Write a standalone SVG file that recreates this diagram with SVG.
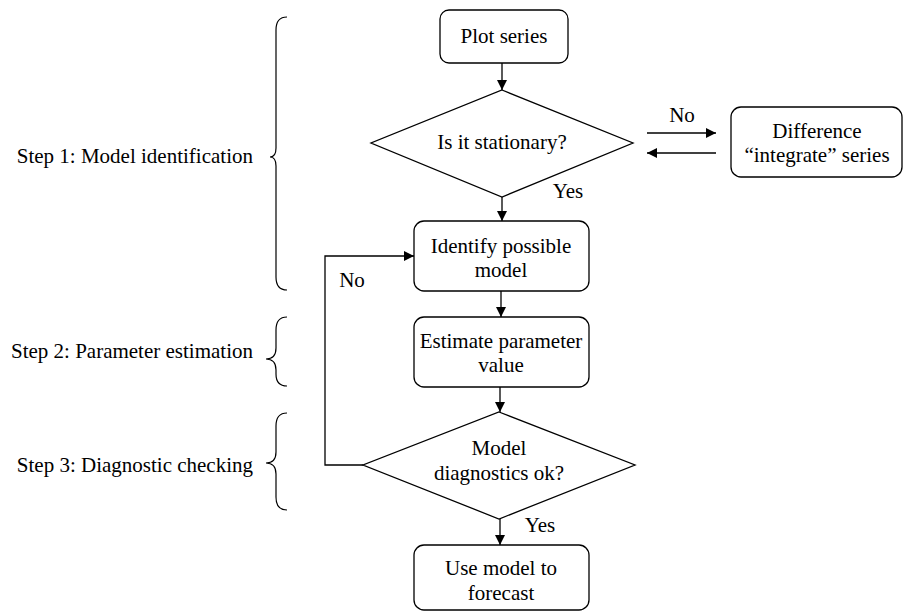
<svg xmlns="http://www.w3.org/2000/svg" width="904" height="612" viewBox="0 0 904 612" font-family="'Liberation Serif', 'Times New Roman', serif" font-size="21">
<defs>
<style>
.c{text-anchor:middle}
.e{text-anchor:end}
.n{fill:#fff;stroke:#000;stroke-width:1.3}
.l{fill:none;stroke:#000;stroke-width:1.3}
.b{fill:none;stroke:#000;stroke-width:1.2}
</style>
<marker id="a" viewBox="0 0 10 10" refX="10" refY="5" markerWidth="10" markerHeight="10" markerUnits="userSpaceOnUse" orient="auto">
<path d="M0,0 L10,5 L0,10 Z" fill="#000"/>
</marker>
</defs>
<rect width="904" height="612" fill="#fff"/>
<g id="connectors">
<line class="l" x1="502" y1="63" x2="502" y2="90" marker-end="url(#a)"/>
<line class="l" x1="502" y1="197" x2="502" y2="221" marker-end="url(#a)"/>
<line class="l" x1="501" y1="291" x2="501" y2="317" marker-end="url(#a)"/>
<line class="l" x1="500" y1="387" x2="500" y2="412" marker-end="url(#a)"/>
<line class="l" x1="500" y1="519" x2="500" y2="545" marker-end="url(#a)"/>
<polyline class="l" points="363,465 325,465 325,256 414,256" marker-end="url(#a)"/>
<line class="l" x1="647" y1="133" x2="716" y2="133" marker-end="url(#a)"/>
<line class="l" x1="716" y1="153" x2="647" y2="153" marker-end="url(#a)"/>
<text x="682" y="122" class="c">No</text>
<text x="568" y="198" class="c">Yes</text>
<text x="352" y="287" class="c">No</text>
<text x="540" y="532" class="c">Yes</text>
</g>
<g id="plot">
<rect class="n" x="440" y="10" width="128" height="53" rx="9"/>
<text x="504" y="43" class="c">Plot series</text>
</g>
<g id="stationary">
<polygon class="n" points="502,90 633,143 502,197 371,143"/>
<text x="502" y="149" class="c">Is it stationary?</text>
</g>
<g id="difference">
<rect class="n" x="731" y="107" width="171" height="70" rx="10"/>
<text x="817" y="138" class="c">Difference</text>
<text x="817" y="162" class="c">“integrate” series</text>
</g>
<g id="identify">
<rect class="n" x="414" y="221" width="175" height="70" rx="10"/>
<text x="501" y="253" class="c">Identify possible</text>
<text x="501" y="277" class="c">model</text>
</g>
<g id="estimate">
<rect class="n" x="414" y="317" width="175" height="70" rx="10"/>
<text x="501" y="348" class="c">Estimate parameter</text>
<text x="501" y="372" class="c">value</text>
</g>
<g id="diagnostics">
<polygon class="n" points="499,412 635,465 499,519 363,465"/>
<text x="499" y="455" class="c">Model</text>
<text x="499" y="480" class="c">diagnostics ok?</text>
</g>
<g id="forecast">
<rect class="n" x="414" y="545" width="175" height="65" rx="10"/>
<text x="501" y="575" class="c">Use model to</text>
<text x="501" y="600" class="c">forecast</text>
</g>
<g id="step1">
<path class="b" d="M287,17 Q276,17 276,30 L276,148 Q276,157 270,157 Q276,157 276,166 L276,277 Q276,290 287,290"/>
<text x="253" y="163" class="e">Step 1: Model identification</text>
</g>
<g id="step2">
<path class="b" d="M287,317 Q276,317 276,330 L276,348 Q276,359 266,359 Q276,359 276,370 L276,374 Q276,386 287,386"/>
<text x="253" y="358" class="e">Step 2: Parameter estimation</text>
</g>
<g id="step3">
<path class="b" d="M287,413 Q276,413 276,426 L276,452 Q276,463 266,463 Q276,463 276,474 L276,497 Q276,510 287,510"/>
<text x="253" y="472" class="e">Step 3: Diagnostic checking</text>
</g>
</svg>
